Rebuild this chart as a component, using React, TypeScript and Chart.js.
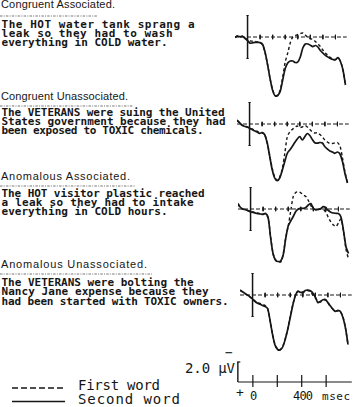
import React, { useEffect, useRef } from 'react';
import { Chart, registerables } from 'chart.js';

Chart.register(...registerables);

// ---------- DATA ----------
const times = [-100, -80, -60, -40, -20, 0, 20, 40, 60, 80, 100, 120, 140, 160, 180, 200, 220, 240, 260, 280, 300, 320, 340, 360, 380, 400, 420, 440, 460, 480, 500, 520, 540, 560, 580, 600, 620, 640, 660, 680, 700, 720, 740, 760, 780];

// microvolts, negative plotted up
const p1Second = [0.05, -0.08, -0.03, -0.08, 0.15, 0.35, 0.62, 0.58, 0.54, 0.54, 0.56, 0.75, 1.55, 2.8, 4.2, 5.35, 5.9, 5.85, 5.45, 4.3, 3.15, 2.6, 2.4, 2.4, 2.55, 2.5, 2.0, 1.1, 0.7, 0.7, 0.82, 0.96, 0.85, 1.0, 1.35, 1.6, 1.83, 2.0, 2.15, 2.25, 2.28, 2.05, 2.45, 3.3, 4.8];
const p1First = [0.0, -0.1, 0.0, -0.05, 0.1, 0.3, 0.4, 0.42, 0.45, 0.5, 0.55, 0.8, 1.6, 2.8, 4.2, 5.3, 5.85, 5.8, 5.3, 4.0, 2.5, 1.6, 0.6, 0.0, -0.15, -0.25, -0.35, -0.4, -0.2, 0.05, 0.15, 0.25, 0.45, 0.7, 0.95, 1.3, 1.6, 1.85, 2.05, 2.2, 2.25, 2.1, 2.45, 3.3, 4.8];

const p2Second = [-0.4, -0.13, 0.12, 0.23, 0.3, 0.43, 0.55, 0.68, 0.8, 0.93, 0.88, 1.05, 1.85, 3.2, 4.55, 5.4, 5.67, 5.4, 4.65, 3.77, 2.95, 2.6, 2.25, 1.85, 1.5, 1.27, 1.6, 1.27, 0.95, 1.15, 1.55, 1.87, 1.92, 1.85, 1.9, 2.27, 2.5, 2.7, 2.8, 2.93, 2.8, 3.0, 3.75, 4.95, 5.9];
const p2First = [-0.35, -0.1, 0.1, 0.2, 0.28, 0.4, 0.5, 0.62, 0.72, 0.85, 0.85, 1.05, 1.85, 3.1, 4.4, 5.3, 5.6, 5.3, 4.5, 3.0, 1.3, 0.8, 0.55, 0.35, 0.2, 0.35, 0.3, 0.15, 0.3, 0.55, 0.8, 0.9, 0.88, 1.05, 1.3, 1.6, 1.8, 1.95, 1.95, 1.9, 1.85, 2.2, 3.4, 4.8, 5.9];

const p3Second = [-0.55, -0.15, 0.0, 0.08, 0.17, 0.27, 0.34, 0.41, 0.46, 0.5, 0.53, 0.45, 0.85, 2.9, 4.5, 5.15, 5.25, 5.2, 4.6, 2.95, 1.7, 1.2, 0.75, 0.25, 0.0, -0.07, -0.07, -0.15, -0.4, -0.55, -0.07, 0.08, 0.05, -0.05, -0.23, -0.1, 0.15, 0.32, 0.4, 0.43, 0.45, 0.8, 2.15, 3.77, 4.45];
const p3First = [-0.5, -0.1, 0.02, 0.1, 0.15, 0.25, 0.3, 0.38, 0.42, 0.45, 0.5, 0.48, 0.9, 2.8, 4.5, 5.1, 5.2, 5.3, 4.5, 2.9, 1.7, 0.2, -1.25, -1.65, -1.72, -1.62, -1.4, -1.25, -0.85, -0.35, 0.0, 0.05, 0.05, 0.0, 0.05, 0.35, 0.85, 1.3, 1.6, 1.75, 1.4, 1.0, 2.2, 4.0, 5.0];

const p4Second = [-0.5, -0.33, -0.16, 0.0, 0.18, 0.4, 0.65, 0.82, 0.93, 1.05, 1.15, 1.35, 2.6, 4.0, 5.05, 5.45, 5.5, 5.2, 4.45, 3.45, 2.25, 1.05, 0.1, -0.38, -0.28, -0.22, -0.44, -0.5, -0.42, -0.2, 0.22, 0.75, 0.65, 0.48, 0.45, 0.75, 1.1, 1.43, 1.65, 1.53, 1.65, 2.25, 3.3, 4.9, null];
const p4First = [-0.45, -0.3, -0.12, 0.02, 0.2, 0.4, 0.6, 0.75, 0.85, 0.95, 1.05, 1.4, 2.6, 4.0, 5.0, 5.4, 5.45, 5.15, 4.4, 3.4, 2.2, 1.0, 0.1, -0.35, -0.3, -0.3, -0.4, -0.45, -0.3, 0.0, 0.3, 0.55, 0.7, 0.55, 0.5, 0.8, 1.15, 1.4, 1.55, 1.6, 1.7, 2.2, 3.3, 5.0, null];

const panelTickTimes = [100, 200, 300, 400, 500, 600, 700];
const panelBarUv = 2.15;
const calTickTimes = [0, 200, 400, 600];
const calUv = 2;

const headings = ['Congruent Associated.', 'Congruent Unassociated.', 'Anomalous Associated.', 'Anomalous Unassociated.'];
const sentences = [
  ['The HOT water tank sprang a', 'leak so they had to wash', 'everything in COLD water.'],
  ['The VETERANS were suing the United', 'States government because they had', 'been exposed to TOXIC chemicals.'],
  ['The HOT visitor plastic reached', 'a leak so they had to intake', 'everything in COLD hours.'],
  ['The VETERANS were bolting the', 'Nancy Jane expense because they', 'had been started with TOXIC owners.'],
];
const legendLabels = ['First word', 'Second word'];
const calLabel = '2.0 µV';
const calTickLabels = ['0', '400', 'msec'];

// ---------- STYLE / LAYOUT ----------
const INK = '#161616';
const panels = [
  { first: p1First, second: p1Second, left: 235.4, top: 7 },
  { first: p2First, second: p2Second, left: 237.4, top: 94 },
  { first: p3First, second: p3Second, left: 238.4, top: 179 },
  { first: p4First, second: p4Second, left: 240.1, top: 265 },
];
const textLayout = [
  { hy: 7.5, hw: 114, uy: 16, uw: 98, ly: [27.5, 36.5, 45.5], lw: [193, 171, 166] },
  { hy: 100, hw: 127, uy: 106, uw: 133, ly: [116, 125, 134], lw: [223, 224, 202] },
  { hy: 180, hw: 129, uy: 186, uw: 135, ly: [197, 206, 215], lw: [203, 192, 166] },
  { hy: 268, hw: 146, uy: 274, uw: 152, ly: [285.5, 295, 304.5], lw: [192, 207, 227] },
];

function pts(ts: number[], vs: (number | null)[]) {
  return ts.map((t, i) => ({ x: t, y: vs[i] }));
}

function ds(data: any[], width: number, dash: number[] = [], tension = 0) {
  return {
    data,
    borderColor: INK,
    borderWidth: width,
    borderDash: dash,
    pointRadius: 0,
    tension,
    fill: false,
    clip: false,
    spanGaps: false,
  };
}

function baseOptions(xmin: number, xmax: number, ymin: number, ymax: number) {
  return {
    responsive: false,
    animation: false,
    devicePixelRatio: 1,
    events: [],
    layout: { padding: 0 },
    plugins: { legend: { display: false }, tooltip: { enabled: false }, title: { display: false } },
    scales: {
      x: { type: 'linear', min: xmin, max: xmax, display: false },
      y: { type: 'linear', min: ymin, max: ymax, reverse: true, display: false },
    },
  };
}

function panelConfig(first: (number | null)[], second: (number | null)[]) {
  const ticks = panelTickTimes.flatMap((t) => [
    { x: t, y: -0.22 },
    { x: t, y: 0.22 },
    { x: t, y: null },
  ]);
  const bar = [
    { x: 0, y: -panelBarUv },
    { x: 0, y: panelBarUv },
  ];
  const caps = [
    { x: -9, y: -panelBarUv },
    { x: 9, y: -panelBarUv },
    { x: 9, y: null },
    { x: -9, y: panelBarUv },
    { x: 9, y: panelBarUv },
  ];
  return {
    type: 'line',
    data: {
      datasets: [
        ds([{ x: -100, y: 0 }, { x: 790, y: 0 }], 1, [4, 2]),
        ds(ticks, 1),
        ds(bar, 1.5),
        ds(caps, 1.2),
        ds(pts(times, first), 1.4, [3, 2.5], 0.3),
        ds(pts(times, second), 1.7, [], 0.3),
      ],
    },
    options: baseOptions(-100, 800, -3, 7),
  };
}

function calConfig() {
  const ticks = calTickTimes.flatMap((t) => [
    { x: t, y: -0.7 },
    { x: t, y: 0.5 },
    { x: t, y: null },
  ]);
  return {
    type: 'line',
    data: {
      datasets: [
        ds([{ x: -123, y: 0 }, { x: 810, y: 0 }], 1.2),
        ds(ticks, 1.2),
        ds([{ x: -123, y: 0 }, { x: -123, y: -calUv }], 1.4),
        ds([{ x: -143, y: -calUv }, { x: -103, y: -calUv }], 1.2),
      ],
    },
    options: baseOptions(-130, 820, -2.7, 0.8),
  };
}

function ChartCanvas({ left, top, width, height, build }: any) {
  const ref = useRef<HTMLCanvasElement | null>(null);
  useEffect(() => {
    const chart = new Chart(ref.current as HTMLCanvasElement, build());
    return () => chart.destroy();
  }, []);
  return (
    <canvas
      ref={ref}
      width={width}
      height={height}
      style={{ position: 'absolute', left, top, width, height }}
    />
  );
}

export default function App() {
  const bodyFont = { fontFamily: '"DejaVu Sans Mono", monospace', fontWeight: 'bold' as const, fontSize: 11 };
  const headFont = { fontFamily: '"Liberation Sans", Arial, sans-serif', fontSize: 11 };
  const legFont = { fontFamily: '"DejaVu Sans Mono", monospace', fontSize: 14 };
  return (
    <div style={{ position: 'absolute', left: 0, top: 0, width: 356, height: 407, background: '#fff', overflow: 'hidden' }}>
      <svg width={356} height={407} style={{ position: 'absolute', left: 0, top: 0 }}>
        {textLayout.map((L, b) => (
          <g key={b} fill={INK}>
            <text x={1} y={L.hy} textLength={L.hw} lengthAdjust="spacing" style={headFont}>
              {headings[b]}
            </text>
            <line x1={0} x2={L.uw} y1={L.uy} y2={L.uy} stroke="#777" strokeWidth={1} strokeDasharray="2.5 1.2 1 1.2" />
            {sentences[b].map((s, i) => (
              <text key={i} x={1.5} y={L.ly[i]} textLength={L.lw[i]} lengthAdjust="spacing" style={bodyFont}>
                {s}
              </text>
            ))}
          </g>
        ))}
        <line x1={12} x2={65} y1={388} y2={388} stroke={INK} strokeWidth={1.3} strokeDasharray="6 3" />
        <line x1={12} x2={65} y1={401.5} y2={401.5} stroke={INK} strokeWidth={1.5} />
        <text x={78} y={390} textLength={82} lengthAdjust="spacing" style={legFont} fill={INK}>{legendLabels[0]}</text>
        <text x={78} y={404} textLength={102} lengthAdjust="spacing" style={legFont} fill={INK}>{legendLabels[1]}</text>
        <text x={185} y={373} textLength={50} lengthAdjust="spacing" style={legFont} fill={INK}>{calLabel}</text>
        <text x={225} y={357} style={{ ...legFont, fontSize: 13 }} fill={INK}>−</text>
        <text x={236} y={397} style={{ ...legFont, fontSize: 13 }} fill={INK}>+</text>
        <text x={253.5} y={400} textAnchor="middle" style={{ ...legFont, fontSize: 12 }} fill={INK}>{calTickLabels[0]}</text>
        <text x={293} y={400} textLength={20} lengthAdjust="spacing" style={{ ...legFont, fontSize: 12 }} fill={INK}>{calTickLabels[1]}</text>
        <text x={322} y={400} textLength={28} lengthAdjust="spacing" style={{ ...legFont, fontSize: 11 }} fill={INK}>{calTickLabels[2]}</text>
      </svg>
      {panels.map((p, i) => (
        <ChartCanvas key={i} left={p.left} top={p.top} width={113} height={100} build={() => panelConfig(p.first, p.second)} />
      ))}
      <ChartCanvas left={237} top={355} width={116} height={35} build={calConfig} />
    </div>
  );
}
